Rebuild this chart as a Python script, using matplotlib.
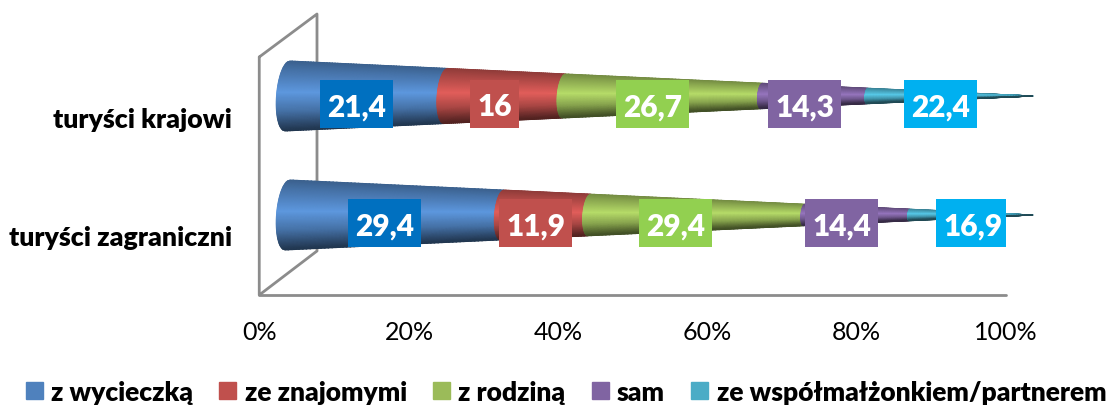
import numpy as np
import matplotlib
matplotlib.use('Agg')
import matplotlib.pyplot as plt
from matplotlib.colors import to_rgb
from matplotlib.patches import Patch, Rectangle

plt.rcParams['font.family'] = ['Lato', 'DejaVu Sans']

categories = ['turyści krajowi', 'turyści zagraniczni']
series = ['z wycieczką', 'ze znajomymi', 'z rodziną', 'sam', 'ze współmałżonkiem/partnerem']
krajowi = [21.4, 16, 26.7, 14.3, 22.4]
zagraniczni = [29.4, 11.9, 29.4, 14.4, 16.9]
labels_krajowi = ['21,4', '16', '26,7', '14,3', '22,4']
labels_zagraniczni = ['29,4', '11,9', '29,4', '14,4', '16,9']
tick_values = [0, 20, 40, 60, 80, 100]
tick_labels = ['0%', '20%', '40%', '60%', '80%', '100%']

colors = ['#4F81BD', '#C0504D', '#9BBB59', '#8064A2', '#4BACC6']
box_colors = ['#0070C0', '#C0504D', '#92D050', '#8064A2', '#00B0F0']
# labels that were moved by hand in the original, in percent
nudge_zagraniczni = [0, 0, -1.5, -0.7, 1.5]

W, H = 1107, 406
fig = plt.figure(figsize=(W / 100, H / 100), dpi=100)
ax = fig.add_axes([260 / W, 1 - 296 / H, 746 / W, 238 / H])
ax.set_xlim(0, 100)
ax.set_ylim(2, 0)
ax.patch.set_visible(False)
for s in ax.spines.values():
    s.set_visible(False)
ax.set_xticks(tick_values, tick_labels, fontsize=18)
ax.set_yticks([0.5, 1.5], categories, fontsize=19.3, fontweight='heavy')
ax.tick_params(length=0, pad=18, colors='black')
ax.tick_params(axis='y', pad=20)

px = 100 / 746      # percent per pixel
py = 2 / 238        # row per pixel

# 3d frame
wall = dict(color='#8C8C8C', lw=2, clip_on=False, zorder=1, solid_capstyle='round')
ax.plot([-0.1, -0.1, 57 * px, 57 * px, -0.1], [0, 2, 2 - 44 * py, -43 * py, 0], **wall)
ax.plot([-0.1, 100], [2, 2], **wall)

# shading across the cone, top to bottom
u_stops = [-1, -0.75, -0.1, 0.45, 0.8, 1]
k_stops = [0.75, 0.88, 1.18, 0.88, 0.58, 0.42]


def cone(row, values, offset=30 * px, length=743 * px, radius=35 * py):
    cum = np.cumsum([0] + list(values)) / sum(values)
    y0 = row - 20.5 * py
    u = np.linspace(-1, 1, 61)
    for i, c in enumerate(colors):
        t = np.linspace(cum[i], cum[i + 1], 60)
        T, U = np.meshgrid(t, u)
        R = 1 - T
        X = offset + length * T - 11 * px * R * np.sqrt(1 - U ** 2) - 2.5 * px * R * (U + 1)
        Y = y0 + radius * R * U
        k = np.interp(u, u_stops, k_stops)
        rgb = np.clip(np.outer(k, to_rgb(c)), 0, 1)
        rgb = np.repeat(rgb[:, None, :], len(t), axis=1)
        ax.pcolormesh(X, Y, rgb, shading='gouraud', zorder=2 + i, clip_on=False)


cone(0.5, krajowi)
cone(1.5, zagraniczni)


def value_labels(row, values, labels, nudge):
    cum = np.cumsum([0] + list(values)) / sum(values) * 100
    mids = (cum[:-1] + cum[1:]) / 2 + np.array(nudge)
    for m, lab, bc in zip(mids, labels, box_colors):
        x = m + 17.4 * px
        y = row - 12.5 * py
        ax.text(x, y, lab, color='white', fontsize=21.5, fontweight='heavy',
                ha='center', va='center_baseline', zorder=11)
        w = 73 if len(lab) > 2 else 49
        cx, cy = ax.transData.transform((x, y))
        ax.add_patch(Rectangle((cx - w / 2, cy - 24), w, 48, transform=None,
                               facecolor=bc, edgecolor='none', zorder=10))


value_labels(0.5, krajowi, labels_krajowi, [0] * 5)
value_labels(1.5, zagraniczni, labels_zagraniczni, nudge_zagraniczni)

handles = [Patch(color=c) for c in colors]
fig.legend(handles, series, loc='lower center', bbox_to_anchor=(0.5113, -0.056), ncol=5,
           frameon=False, handlelength=0.645, handleheight=0.645, handletextpad=0.31,
           columnspacing=1.0, prop=dict(size=19, weight='heavy'))

fig.savefig('out.png', dpi=100)
